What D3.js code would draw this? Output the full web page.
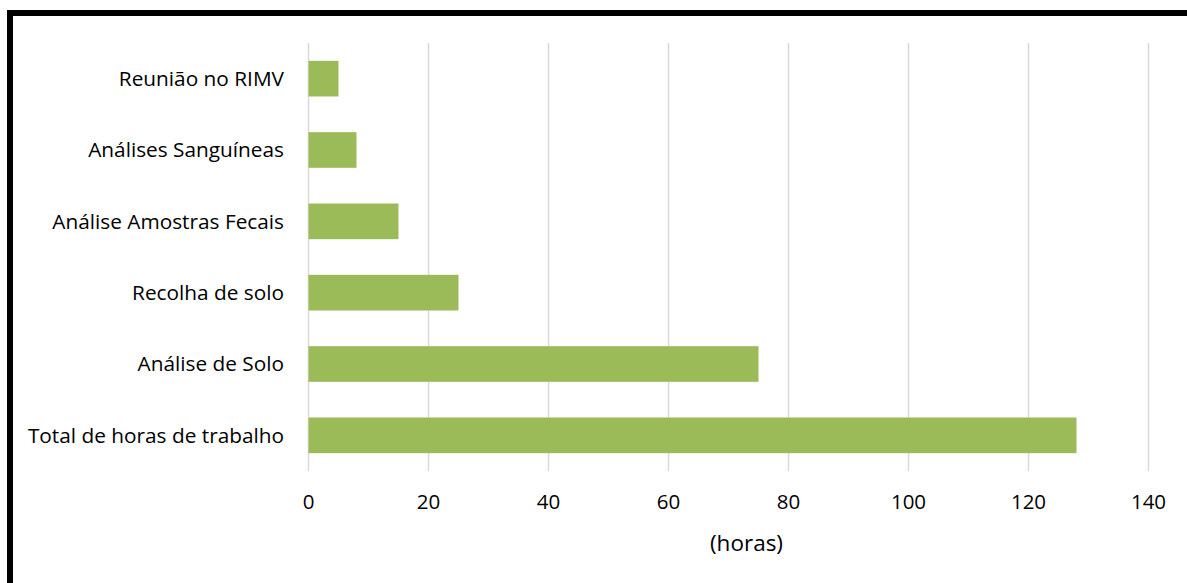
<!DOCTYPE html>
<html>
<head>
<meta charset="utf-8">
<script src="https://cdn.jsdelivr.net/npm/d3@7"></script>
<style>
  html, body { margin: 0; padding: 0; background: #fff; }
  svg { display: block; }
  text { font-family: "Open Sans", "Liberation Sans", sans-serif; fill: #000; }
</style>
</head>
<body>
<svg id="chart" width="1187" height="583"></svg>
<script>
// Activities and their hours
const categories = [
  "Reunião no RIMV",
  "Análises Sanguíneas",
  "Análise Amostras Fecais",
  "Recolha de solo",
  "Análise de Solo",
  "Total de horas de trabalho"
];
const hours = [5, 8, 15, 25, 75, 128];
const xTicks = [0, 20, 40, 60, 80, 100, 120, 140];
const axisTitle = "(horas)";

const svg = d3.select("#chart");
const W = 1187, H = 583;
const plot = { left: 308.5, right: 1148.5, top: 43, bottom: 471 };

// Frame lines along the top and left edges
svg.append("line").attr("x1", 7).attr("x2", W).attr("y1", 13).attr("y2", 13)
  .attr("stroke", "#000").attr("stroke-width", 6);
svg.append("line").attr("x1", 10).attr("x2", 10).attr("y1", 10).attr("y2", H)
  .attr("stroke", "#000").attr("stroke-width", 6);

const x = d3.scaleLinear().domain([0, 140]).range([plot.left, plot.right]);
const y = d3.scaleBand().domain(categories).range([plot.top, plot.bottom]).paddingInner(0.5).paddingOuter(0.25);

// Vertical gridlines
svg.append("g").selectAll("line").data(xTicks).join("line")
  .attr("x1", d => x(d)).attr("x2", d => x(d))
  .attr("y1", plot.top).attr("y2", plot.bottom)
  .attr("stroke", "#d9d9d9").attr("stroke-width", 1.5);

// Bars
svg.append("g").selectAll("rect").data(categories).join("rect")
  .attr("x", x(0))
  .attr("y", d => y(d))
  .attr("width", (d, i) => x(hours[i]) - x(0))
  .attr("height", y.bandwidth())
  .attr("fill", "#9bbb59");

// Category labels
svg.append("g").selectAll("text").data(categories).join("text")
  .attr("x", 284)
  .attr("y", d => y(d) + y.bandwidth() / 2)
  .attr("dy", "0.35em")
  .attr("text-anchor", "end")
  .attr("font-size", 20.8)
  .text(d => d);

// Tick labels
svg.append("g").selectAll("text").data(xTicks).join("text")
  .attr("x", d => x(d))
  .attr("y", 502)
  .attr("dy", "0.35em")
  .attr("text-anchor", "middle")
  .attr("font-size", 20.5)
  .text(d => d);

// Axis title
svg.append("text")
  .attr("x", 746.5)
  .attr("y", 543)
  .attr("dy", "0.35em")
  .attr("text-anchor", "middle")
  .attr("font-size", 22.5)
  .text(axisTitle);
</script>
</body>
</html>
